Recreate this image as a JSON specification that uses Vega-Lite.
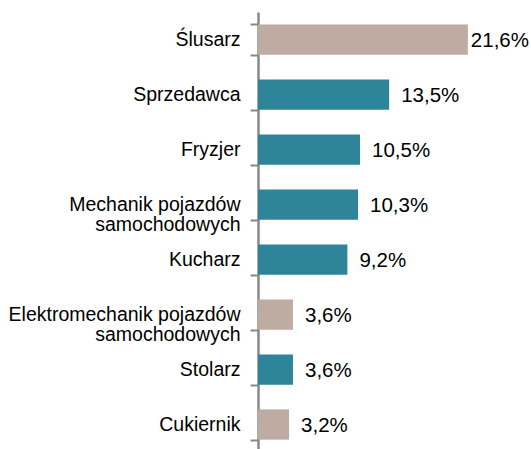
{
  "$schema": "https://vega.github.io/schema/vega-lite/v6.json",
  "width": 273,
  "height": 440,
  "autosize": {"type": "none"},
  "padding": {"left": 258, "top": 12, "right": 0, "bottom": 0},
  "background": "white",
  "config": {"view": {"stroke": null}, "font": "Liberation Sans"},
  "data": {"values": [
    {"zawod": "Ślusarz", "v": 21.6, "label": "21,6%", "grupa": "b"},
    {"zawod": "Sprzedawca", "v": 13.5, "label": "13,5%", "grupa": "a"},
    {"zawod": "Fryzjer", "v": 10.5, "label": "10,5%", "grupa": "a"},
    {"zawod": "Mechanik pojazdów|samochodowych", "v": 10.3, "label": "10,3%", "grupa": "a"},
    {"zawod": "Kucharz", "v": 9.2, "label": "9,2%", "grupa": "a"},
    {"zawod": "Elektromechanik pojazdów|samochodowych", "v": 3.6, "label": "3,6%", "grupa": "b"},
    {"zawod": "Stolarz", "v": 3.6, "label": "3,6%", "grupa": "a"},
    {"zawod": "Cukiernik", "v": 3.2, "label": "3,2%", "grupa": "b"}
  ]},
  "encoding": {
    "y": {
      "field": "zawod", "type": "nominal", "sort": null,
      "scale": {"paddingInner": 0.45, "paddingOuter": 0.225},
      "axis": {
        "title": null,
        "labelExpr": "split(datum.label, '|')",
        "labelFontSize": 19.5,
        "labelColor": "#000000",
        "labelLineHeight": 20,
        "labelPadding": 10,
        "tickSize": 8,
        "tickColor": "#888888",
        "tickWidth": 2,
        "tickBand": "extent",
        "domainColor": "#888888",
        "domainWidth": 2.5,
        "labelLimit": 300,
        "encode": {
          "labels": {
            "update": {
              "align": [
                {"test": "datum.value === 'Elektromechanik pojazdów|samochodowych' || datum.value === 'Mechanik pojazdów|samochodowych'", "value": "center"},
                {"value": "right"}
              ],
              "dx": [
                {"test": "datum.value === 'Elektromechanik pojazdów|samochodowych'", "value": -116},
                {"test": "datum.value === 'Mechanik pojazdów|samochodowych'", "value": -87},
                {"value": 0}
              ]
            }
          }
        }
      }
    },
    "x": {
      "field": "v", "type": "quantitative",
      "scale": {"domain": [0, 28.1], "nice": false},
      "axis": null
    }
  },
  "layer": [
    {
      "mark": {"type": "bar"},
      "encoding": {
        "color": {
          "field": "grupa", "type": "nominal", "legend": null,
          "scale": {"domain": ["a", "b"], "range": ["#2E8499", "#BEABA1"]}
        }
      }
    },
    {
      "transform": [{"filter": "datum.v < 20"}],
      "mark": {"type": "text", "align": "left", "baseline": "middle", "dx": 12, "dy": 1, "fontSize": 20.5, "color": "#000000"},
      "encoding": {"text": {"field": "label"}}
    },
    {
      "transform": [{"filter": "datum.v >= 20"}],
      "mark": {"type": "text", "align": "left", "baseline": "middle", "dx": 3, "dy": 1, "fontSize": 20.5, "color": "#000000"},
      "encoding": {"text": {"field": "label"}}
    }
  ]
}
